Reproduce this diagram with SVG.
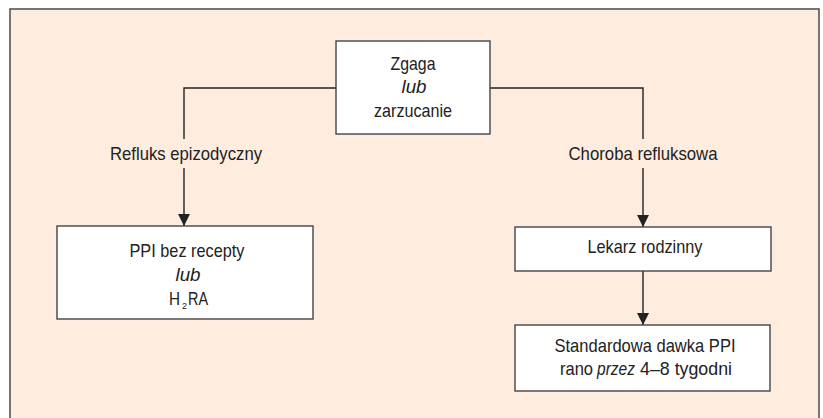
<svg xmlns="http://www.w3.org/2000/svg" width="823" height="418" viewBox="0 0 823 418">
<defs>
<marker id="arr" markerUnits="userSpaceOnUse" markerWidth="12" markerHeight="12" refX="12" refY="6" orient="auto">
<path d="M0,0 L12,6 L0,12 z" fill="#222"/>
</marker>
<style>
.bg{fill:#FEEDDF;stroke:#555;stroke-width:1.6}
.box{fill:#fff;stroke:#444;stroke-width:1.4}
.t{font-family:"Liberation Sans",Arial,sans-serif;font-size:19px;fill:#222;text-anchor:middle}
.s{text-anchor:start}
.i{font-style:italic}
.c{fill:none;stroke:#222;stroke-width:1.4}
</style>
</defs>
<rect width="823" height="418" fill="#fff"/>
<rect class="bg" x="10" y="9" width="809" height="430"/>
<g id="connectors">
<path class="c" d="M336,88 H184 V139"/>
<path class="c" d="M184,168 V226" marker-end="url(#arr)"/>
<path class="c" d="M490,88 H643 V139"/>
<path class="c" d="M643,168 V227" marker-end="url(#arr)"/>
<path class="c" d="M643,271 V325" marker-end="url(#arr)"/>
<text class="t" x="186" y="160" textLength="152" lengthAdjust="spacingAndGlyphs">Refluks epizodyczny</text>
<text class="t" x="643" y="160" textLength="149" lengthAdjust="spacingAndGlyphs">Choroba refluksowa</text>
</g>
<g id="n-start">
<rect class="box" x="336" y="41" width="154" height="93"/>
<text class="t" x="413" y="70" textLength="45" lengthAdjust="spacingAndGlyphs">Zgaga</text>
<text class="t i" x="414" y="93" textLength="25" lengthAdjust="spacingAndGlyphs">lub</text>
<text class="t" x="413" y="117" textLength="78" lengthAdjust="spacingAndGlyphs">zarzucanie</text>
</g>
<g id="n-ppi">
<rect class="box" x="57" y="226" width="256" height="93"/>
<text class="t" x="187" y="257" textLength="115" lengthAdjust="spacingAndGlyphs">PPI bez recepty</text>
<text class="t i" x="188" y="281" textLength="25" lengthAdjust="spacingAndGlyphs">lub</text>
<text class="t s" x="169" y="305" textLength="11" lengthAdjust="spacingAndGlyphs">H</text>
<text class="t s" x="182" y="309" style="font-size:9px">2</text>
<text class="t s" x="188" y="305" textLength="20" lengthAdjust="spacingAndGlyphs">RA</text>
</g>
<g id="n-lekarz">
<rect class="box" x="515" y="227" width="256" height="44"/>
<text class="t" x="645" y="253" textLength="115" lengthAdjust="spacingAndGlyphs">Lekarz rodzinny</text>
</g>
<g id="n-standard">
<rect class="box" x="515" y="325" width="255" height="66"/>
<text class="t" x="645" y="352" textLength="181" lengthAdjust="spacingAndGlyphs">Standardowa dawka PPI</text>
<text class="t s" x="560" y="375" textLength="33" lengthAdjust="spacingAndGlyphs">rano</text>
<text class="t s i" x="597" y="375" textLength="38" lengthAdjust="spacingAndGlyphs">przez</text>
<text class="t s" x="640" y="375" textLength="92" lengthAdjust="spacingAndGlyphs">4–8 tygodni</text>
</g>
</svg>
